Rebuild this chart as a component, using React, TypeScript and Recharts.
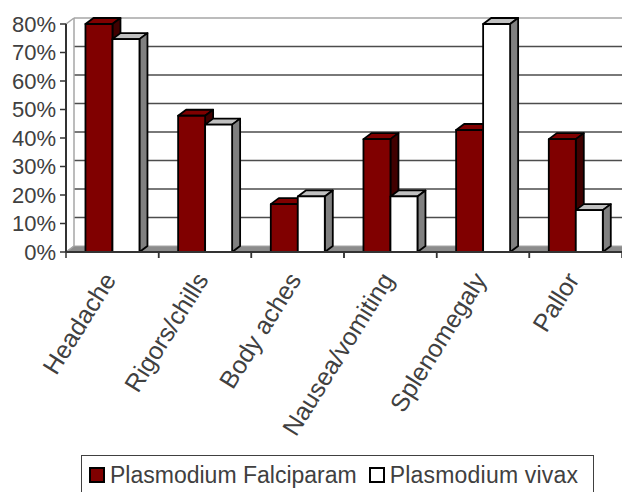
import React from 'react';
import { BarChart, Bar, XAxis, YAxis, CartesianGrid, Legend } from 'recharts';

const symptoms = ['Headache', 'Rigors/chills', 'Body aches', 'Nausea/vomiting', 'Splenomegaly', 'Pallor'];
const falciparum = [80, 47.8, 16.8, 39.6, 42.8, 39.6];
const vivax = [74.7, 44.7, 19.5, 19.5, 80, 14.7];
const yTicks = [0, 10, 20, 30, 40, 50, 60, 70, 80];

const data = symptoms.map((name, i) => ({ name, falciparum: falciparum[i], vivax: vivax[i] }));

// depth of the fake 3D effect
const DX = 8;
const DY = 6;
const FONT = '"Liberation Sans", Arial, sans-serif';
const TEXT = '#404040';

const make3DBar = (front: string, top: string, side: string) => (props: any) => {
  const { x, y, width: w, height: h } = props;
  if (w == null || h == null) return null;
  return (
    <g stroke="#000" strokeWidth={1.8} strokeLinejoin="round">
      <polygon points={`${x},${y} ${x + DX},${y - DY} ${x + w + DX},${y - DY} ${x + w},${y}`} fill={top} />
      <polygon points={`${x + w},${y} ${x + w + DX},${y - DY} ${x + w + DX},${y + h - DY} ${x + w},${y + h}`} fill={side} />
      <rect x={x} y={y} width={w} height={h} fill={front} />
    </g>
  );
};

const gridLine = (p: any) => {
  const { x1, x2, y1, horizontalPoints } = p;
  const pts: number[] = horizontalPoints || [];
  const topY = pts.length ? Math.min(...pts) : p.y;
  const bottomY = pts.length ? Math.max(...pts) : p.y + p.height;
  if (Math.abs(y1 - bottomY) < 0.5) {
    return (
      <g key={p.key}>
        <polygon
          points={`${x1},${y1} ${x1 + DX},${y1 - DY} ${x2 + DX},${y1 - DY} ${x2},${y1}`}
          fill="#8c8c8c"
          stroke="#a6a6a6"
          strokeWidth={1}
        />
      </g>
    );
  }
  if (Math.abs(y1 - topY) < 0.5) {
    return (
      <g key={p.key} stroke="#a6a6a6" strokeWidth={1.5}>
        <line x1={x1 + DX} y1={y1 - DY} x2={x2 + DX} y2={y1 - DY} />
        <line x1={x1} y1={y1} x2={x1 + DX} y2={y1 - DY} />
        <line x1={x1 + DX} y1={y1 - DY} x2={x1 + DX} y2={bottomY - DY} />
        <line x1={x1} y1={bottomY} x2={x1 + DX} y2={bottomY - DY} />
      </g>
    );
  }
  return <line key={p.key} x1={x1 + DX} y1={y1 - DY} x2={x2 + DX} y2={y1 - DY} stroke="#4d4d4d" strokeWidth={1.5} />;
};

const XTick = (props: any) => {
  const { x, y, payload } = props;
  const half = payload?.offset ?? 0;
  const axisY = y - 6;
  return (
    <g>
      <line x1={x - half} y1={axisY} x2={x - half} y2={axisY + 6} stroke="#333" strokeWidth={1.5} />
      <line x1={x + half} y1={axisY} x2={x + half} y2={axisY + 6} stroke="#333" strokeWidth={1.5} />
      <g transform={`translate(${x - 3},${axisY + 23})`}>
        <text transform="rotate(-58)" textAnchor="end" dy="0.35em" fontSize={25} fontFamily={FONT} fill={TEXT}>
          {payload.value}
        </text>
      </g>
    </g>
  );
};

const Swatch = ({ color }: { color: string }) => (
  <span
    style={{
      display: 'inline-block',
      width: 12,
      height: 12,
      background: color,
      border: '2px solid #000',
      marginRight: 5,
    }}
  />
);

const LegendBox = () => (
  <div
    style={{
      boxSizing: 'border-box',
      width: 513,
      height: 37,
      border: '1.5px solid #404040',
      borderBottom: 'none',
      display: 'flex',
      alignItems: 'center',
      paddingLeft: 7,
      paddingTop: 2,
      fontFamily: FONT,
      fontSize: 23,
      color: TEXT,
      whiteSpace: 'nowrap',
    }}
  >
    <Swatch color="#800000" />
    <span style={{ marginRight: 12 }}>Plasmodium Falciparam</span>
    <Swatch color="#ffffff" />
    <span style={{ letterSpacing: 0.2 }}>Plasmodium vivax</span>
  </div>
);

export default function App() {
  return (
    <div style={{ position: 'absolute', left: 0, top: 0, width: 622, height: 492, background: '#fff' }}>
      <BarChart
        width={622}
        height={492}
        data={data}
        margin={{ top: 24, right: 0, bottom: 0, left: 0 }}
        barCategoryGap="21%"
        barGap={0}
      >
        <CartesianGrid vertical={false} horizontal={gridLine} />
        <XAxis
          dataKey="name"
          height={240}
          interval={0}
          tickLine={false}
          tickSize={6}
          tickMargin={0}
          tick={<XTick />}
          axisLine={{ stroke: '#333', strokeWidth: 2 }}
        />
        <YAxis
          width={66}
          domain={[0, 80]}
          ticks={yTicks}
          interval={0}
          tickFormatter={(v: number) => `${v}%`}
          tickSize={6}
          tickMargin={4}
          tick={{ fontSize: 22, fontFamily: FONT, fill: TEXT }}
          tickLine={{ stroke: '#333', strokeWidth: 1.5 }}
          axisLine={{ stroke: '#333', strokeWidth: 2 }}
        />
        <Legend
          layout="horizontal"
          verticalAlign="middle"
          align="center"
          wrapperStyle={{ left: 81, top: 455, width: 513, height: 37 }}
          content={() => <LegendBox />}
        />
        <Bar
          dataKey="falciparum"
          name="Plasmodium Falciparam"
          fill="#800000"
          isAnimationActive={false}
          shape={make3DBar('#800000', '#800000', '#400000')}
        />
        <Bar
          dataKey="vivax"
          name="Plasmodium vivax"
          fill="#ffffff"
          isAnimationActive={false}
          shape={make3DBar('#ffffff', '#c0c0c0', '#808080')}
        />
      </BarChart>
    </div>
  );
}
